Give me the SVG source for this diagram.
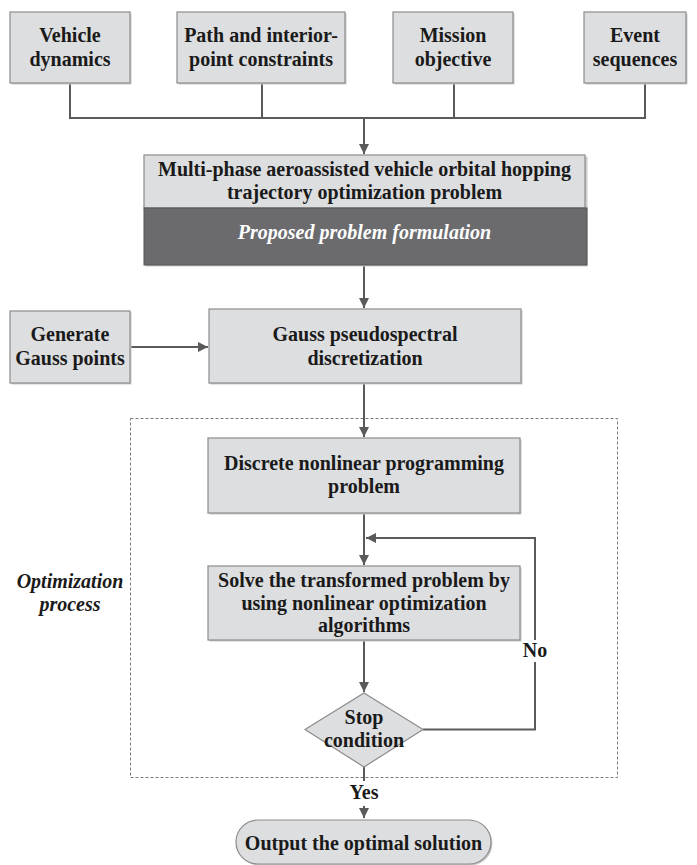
<svg xmlns="http://www.w3.org/2000/svg" width="697" height="865" viewBox="0 0 697 865">
<defs>
<style>
.box{fill:#dddee0;stroke:#8c8c8c;stroke-width:1.2}
.sh{fill:#cbcbcb}
.t{font-family:"Liberation Serif","Times New Roman",serif;font-weight:bold;font-size:20px;fill:#1a1a1a;text-anchor:middle}
.ti{font-style:italic}
.ln{fill:none;stroke:#5a5a5a;stroke-width:2}
</style>
<marker id="ah" viewBox="0 0 10 10" refX="10" refY="5" markerWidth="10" markerHeight="10" markerUnits="userSpaceOnUse" orient="auto">
<path d="M0,0 L10,5 L0,10 z" fill="#5a5a5a"/>
</marker>
</defs>
<rect width="697" height="865" fill="#ffffff"/>

<g id="optimization-region">
<rect x="130.5" y="418.5" width="487" height="359" fill="none" stroke="#7a7a7a" stroke-width="1" stroke-dasharray="3,2"/>
<text class="t ti" x="70" y="588">Optimization</text>
<text class="t ti" x="70" y="611">process</text>
</g>

<g id="connectors">
<path class="ln" d="M70,83 V118 H645 V83 M262,83 V118 M454,83 V118"/>
<path class="ln" d="M364,118 V154" marker-end="url(#ah)"/>
<path class="ln" d="M364,265 V308" marker-end="url(#ah)"/>
<path class="ln" d="M130,347 H208" marker-end="url(#ah)"/>
<path class="ln" d="M364,383 V437" marker-end="url(#ah)"/>
<path class="ln" d="M364,513 V565" marker-end="url(#ah)"/>
<path class="ln" d="M364,640 V692" marker-end="url(#ah)"/>
<path class="ln" d="M423,729.5 H535 V662"/>
<path class="ln" d="M535,640 V538 H366" marker-end="url(#ah)"/>
<path class="ln" d="M364,767 V781"/>
<path class="ln" d="M364,806 V818" marker-end="url(#ah)"/>
<text class="t" x="535" y="657">No</text>
<text class="t" x="364" y="799">Yes</text>
</g>

<g id="vehicle-dynamics">
<rect class="sh" x="11.5" y="13.5" width="120" height="71"/>
<rect class="box" x="10" y="12" width="120" height="71"/>
<text class="t" x="70" y="42">Vehicle</text>
<text class="t" x="70" y="66">dynamics</text>
</g>

<g id="path-constraints">
<rect class="sh" x="178.5" y="13.5" width="168" height="71"/>
<rect class="box" x="177" y="12" width="168" height="71"/>
<text class="t" x="261" y="42">Path and interior-</text>
<text class="t" x="261" y="66">point constraints</text>
</g>

<g id="mission-objective">
<rect class="sh" x="394.5" y="13.5" width="120" height="71"/>
<rect class="box" x="393" y="12" width="120" height="71"/>
<text class="t" x="453" y="42">Mission</text>
<text class="t" x="453" y="66">objective</text>
</g>

<g id="event-sequences">
<rect class="sh" x="585.5" y="13.5" width="102" height="71"/>
<rect class="box" x="584" y="12" width="102" height="71"/>
<text class="t" x="635" y="42">Event</text>
<text class="t" x="635" y="66">sequences</text>
</g>

<g id="problem">
<rect class="sh" x="145.5" y="156.5" width="442" height="110"/>
<rect class="box" x="144" y="155" width="441" height="53"/>
<rect x="144" y="208" width="443" height="57" fill="#6b6b6e" stroke="#555" stroke-width="1"/>
<text class="t" x="364.5" y="176">Multi-phase aeroassisted vehicle orbital hopping</text>
<text class="t" x="364.5" y="199">trajectory optimization problem</text>
<text class="t ti" x="364.5" y="239" style="fill:#ffffff">Proposed problem formulation</text>
</g>

<g id="generate-gauss-points">
<rect class="sh" x="11.5" y="312.5" width="120" height="72"/>
<rect class="box" x="10" y="311" width="120" height="72"/>
<text class="t" x="70" y="341">Generate</text>
<text class="t" x="70" y="365">Gauss points</text>
</g>

<g id="gauss-discretization">
<rect class="sh" x="210.5" y="310.5" width="312" height="74"/>
<rect class="box" x="209" y="309" width="312" height="74"/>
<text class="t" x="365" y="341">Gauss pseudospectral</text>
<text class="t" x="365" y="365">discretization</text>
</g>

<g id="discrete-nlp">
<rect class="sh" x="209.5" y="439.5" width="312" height="75"/>
<rect class="box" x="208" y="438" width="312" height="75"/>
<text class="t" x="364" y="470">Discrete nonlinear programming</text>
<text class="t" x="364" y="493">problem</text>
</g>

<g id="solve">
<rect class="sh" x="209.5" y="567.5" width="312" height="74"/>
<rect class="box" x="208" y="566" width="312" height="74"/>
<text class="t" x="364" y="587">Solve the transformed problem by</text>
<text class="t" x="364" y="610">using nonlinear optimization</text>
<text class="t" x="364" y="632">algorithms</text>
</g>

<g id="stop-condition">
<polygon points="364,693 423,729.5 364,767 305,729.5" fill="#dddee0" stroke="#8c8c8c" stroke-width="1.2"/>
<text class="t" x="364" y="724">Stop</text>
<text class="t" x="364" y="747">condition</text>
</g>

<g id="output">
<rect class="sh" x="237.5" y="821.5" width="255" height="44" rx="22"/>
<rect class="box" x="236" y="820" width="255" height="44" rx="22"/>
<text class="t" x="363.5" y="850">Output the optimal solution</text>
</g>
</svg>
